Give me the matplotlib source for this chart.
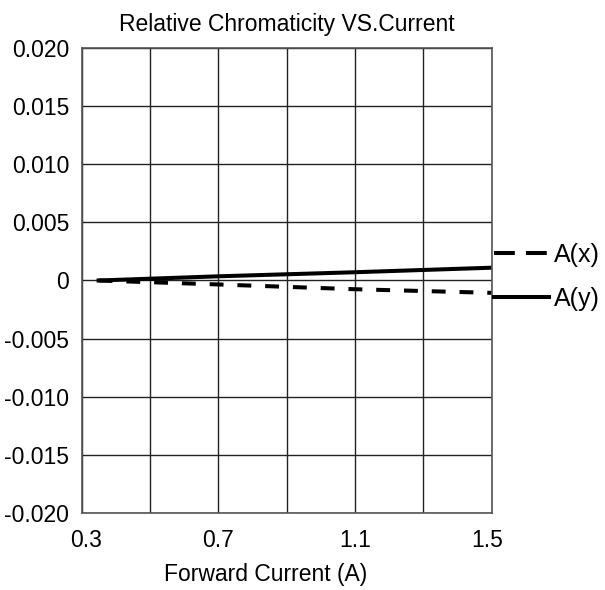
import matplotlib
matplotlib.use("Agg")
import matplotlib.pyplot as plt
from matplotlib.lines import Line2D
from matplotlib.ticker import FixedLocator, FixedFormatter
from matplotlib.transforms import ScaledTranslation

# ---- data ----
current = [0.35, 0.7, 1.1, 1.5]
a_x = [0.0, -0.00034, -0.00075, -0.00106]
a_y = [0.0, 0.00036, 0.00071, 0.0011]
labels = ["A(x)", "A(y)"]
title = "Relative Chromaticity VS.Current"
xlabel = "Forward Current (A)"
xticks = [0.3, 0.7, 1.1, 1.5]
xticklabels = ["0.3", "0.7", "1.1", "1.5"]
yticks = [-0.020, -0.015, -0.010, -0.005, 0.0, 0.005, 0.010, 0.015, 0.020]
yticklabels = ["-0.020", "-0.015", "-0.010", "-0.005", "0", "0.005", "0.010", "0.015", "0.020"]

plt.rcParams['font.family'] = ['Liberation Sans', 'DejaVu Sans']
plt.rcParams['lines.scale_dashes'] = False

W, H = 605, 590
fig = plt.figure(figsize=(W / 100, H / 100), dpi=100)
L, R, T, B = 81.5, 491.7, 47.7, 513.3
ax = fig.add_axes([L / W, 1 - B / H, (R - L) / W, (B - T) / H])

ax.set_xlim(0.3, 1.5)
ax.set_ylim(-0.02, 0.02)

# grid every 0.2 A and 0.005
ax.xaxis.set_major_locator(FixedLocator(xticks))
ax.xaxis.set_major_formatter(FixedFormatter(xticklabels))
ax.xaxis.set_minor_locator(FixedLocator([0.5, 0.9, 1.3]))
ax.yaxis.set_major_locator(FixedLocator(yticks))
ax.yaxis.set_major_formatter(FixedFormatter(yticklabels))
ax.grid(True, which='both', color='#222222', linewidth=1.0)
ax.set_axisbelow(True)
ax.tick_params(which='both', length=0)
ax.tick_params(axis='y', labelsize=16.5, pad=9)
ax.tick_params(axis='x', labelsize=16.5, pad=11)
for s in ax.spines.values():
    s.set_color('#555555')
    s.set_linewidth(1.2)

ax.plot(current, a_x, color='black', linewidth=2.9, linestyle=(0, (10, 10)), solid_capstyle='butt')
ax.plot(current, a_y, color='black', linewidth=2.9, linestyle='-')

ax.set_title(title, fontsize=16.5, pad=12)
ax.set_xlabel(xlabel, fontsize=16.5, labelpad=8, x=0.45)

# nudge end tick labels inward like the reference
fig.canvas.draw()
xtl = ax.get_xticklabels()
xtl[0].set_transform(xtl[0].get_transform() + ScaledTranslation(4.5 / 100, 0, fig.dpi_scale_trans))
xtl[-1].set_transform(xtl[-1].get_transform() + ScaledTranslation(-5 / 100, 0, fig.dpi_scale_trans))

handles = [
    Line2D([], [], color='black', linewidth=2.9, linestyle=(0, (15, 8))),
    Line2D([], [], color='black', linewidth=2.9, linestyle='-'),
]
fig.legend(handles, labels, loc='upper left', bbox_to_anchor=(494 / W, 1 - 243 / H),
           frameon=False, fontsize=18, handlelength=2.2, handletextpad=0.2,
           labelspacing=0.8, borderpad=0, borderaxespad=0)

fig.savefig("out.png", dpi=100)
